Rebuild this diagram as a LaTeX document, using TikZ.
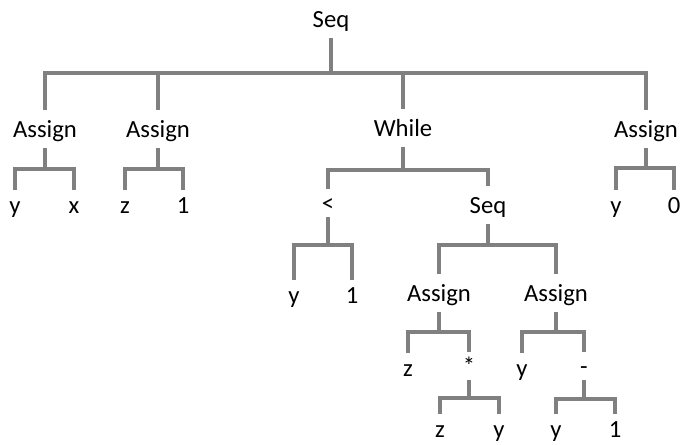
\documentclass[tikz,border=0pt]{standalone}
\usepackage{fontspec}
\setmainfont{Carlito}
\usepackage{tikz}
\definecolor{edgegray}{rgb}{0.5,0.5,0.5}

\begin{document}
\begin{tikzpicture}[x=0.75pt,y=-0.75pt,
  every node/.append style={inner sep=0pt,
    font=\fontsize{18.5pt}{20pt}\selectfont, text height=12pt, text depth=0pt},
  inner/.style={minimum height=28pt},
  op/.style={minimum height=20pt},
  leaf/.style={minimum height=22pt},
  edge/.style={draw=edgegray, line width=3pt}]
  \useasboundingbox (0,0) rectangle (682,444);

  % statements
  \node[inner] (seq0)  at (331,19)  {Seq};
  \node[inner] (as1)   at (45,129)  {Assign};
  \node[inner] (as2)   at (158,129) {Assign};
  \node[inner] (while) at (403,128) {While};
  \node[inner] (as4)   at (646,129) {Assign};
  \node[op]    (lt)    at (328,203) {<};
  \node[inner] (seq1)  at (488,205) {Seq};
  \node[inner] (as5)   at (439,293) {Assign};
  \node[inner] (as6)   at (556,293) {Assign};
  \node[op]    (mul)   at (469,366) {*};
  \node[op]    (minus) at (584,366) {-};

  % variables and constants
  \node[leaf] (y1)    at (15,205)  {y};
  \node[leaf] (x1)    at (74,205)  {x};
  \node[leaf] (z2)    at (125,205) {z};
  \node[leaf] (one2)  at (183,205) {1};
  \node[leaf] (y4)    at (616,205) {y};
  \node[leaf] (zero4) at (674,205) {0};
  \node[leaf] (y3)    at (294,295) {y};
  \node[leaf] (one3)  at (352,295) {1};
  \node[leaf] (z5)    at (408,368) {z};
  \node[leaf] (y6)    at (522,368) {y};
  \node[leaf] (z7)    at (440,429) {z};
  \node[leaf] (y7)    at (499,429) {y};
  \node[leaf] (y8)    at (556,429) {y};
  \node[leaf] (one8)  at (615,429) {1};

  % junctions of the bars
  \coordinate (j0)  at (331,73);
  \coordinate (j1)  at (45,169);
  \coordinate (j2)  at (158,169);
  \coordinate (j3)  at (403,170);
  \coordinate (j4)  at (646,168);
  \coordinate (j5)  at (328,245);
  \coordinate (j6)  at (488,245);
  \coordinate (j7)  at (439,332);
  \coordinate (j8)  at (556,332);
  \coordinate (j9)  at (469,398);
  \coordinate (j10) at (584,399);

  \draw[edge] (seq0.south) -- (j0);
  \draw[edge] (as1.north) |- (j0) -| (as4.north);
  \draw[edge] (j0 -| as2) -- (as2.north);
  \draw[edge] (j0 -| while) -- (while.north);

  \draw[edge] (as1.south) -- (j1);
  \draw[edge] (y1.north) |- (j1) -| (x1.north);
  \draw[edge] (as2.south) -- (j2);
  \draw[edge] (z2.north) |- (j2) -| (one2.north);
  \draw[edge] (while.south) -- (j3);
  \draw[edge] (lt.north) |- (j3) -| (seq1.north);
  \draw[edge] (as4.south) -- (j4);
  \draw[edge] (y4.north) |- (j4) -| (zero4.north);

  \draw[edge] (lt.south) -- (j5);
  \draw[edge] (y3.north) |- (j5) -| (one3.north);
  \draw[edge] (seq1.south) -- (j6);
  \draw[edge] (as5.north) |- (j6) -| (as6.north);

  \draw[edge] (as5.south) -- (j7);
  \draw[edge] (z5.north) |- (j7) -| (mul.north);
  \draw[edge] (as6.south) -- (j8);
  \draw[edge] (y6.north) |- (j8) -| (minus.north);

  \draw[edge] (mul.south) -- (j9);
  \draw[edge] (z7.north) |- (j9) -| (y7.north);
  \draw[edge] (minus.south) -- (j10);
  \draw[edge] (y8.north) |- (j10) -| (one8.north);
\end{tikzpicture}
\end{document}
